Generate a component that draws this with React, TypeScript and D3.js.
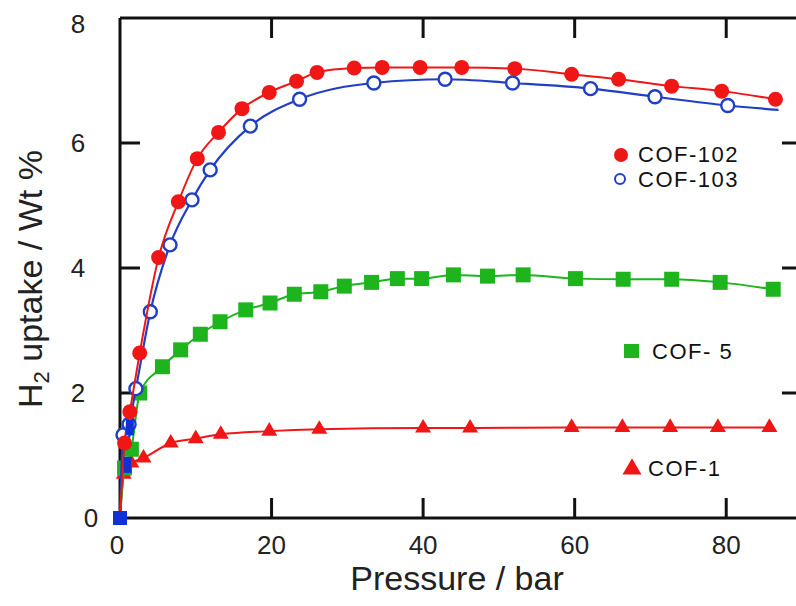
import React from 'react';
import * as d3 from 'd3';

// ---- data (pressure in bar, uptake in wt %) ----
const cof102P = [0, 0.6, 1.3, 2.6, 5.1, 7.7, 10.2, 13.0, 16.1, 19.7, 23.3, 26.0, 30.9, 34.6, 39.6, 45.1, 52.1, 59.6, 65.8, 72.8, 79.4, 86.5];
const cof102U = [0, 1.2, 1.7, 2.64, 4.17, 5.06, 5.75, 6.17, 6.55, 6.81, 6.99, 7.13, 7.2, 7.21, 7.21, 7.21, 7.19, 7.1, 7.02, 6.91, 6.83, 6.7];

const cof103P = [0, 0.4, 1.2, 2.1, 4.0, 6.6, 9.5, 11.9, 17.2, 23.7, 33.5, 42.9, 51.8, 62.1, 70.6, 80.2];
const cof103U = [0, 1.33, 1.5, 2.07, 3.3, 4.37, 5.09, 5.57, 6.27, 6.7, 6.96, 7.02, 6.96, 6.87, 6.74, 6.6];
const cof103TailP = [86.9];
const cof103TailU = [6.53];

const cof5P = [0, 0.6, 1.5, 2.6, 5.6, 8.0, 10.6, 13.2, 16.6, 19.8, 23.0, 26.5, 29.6, 33.2, 36.6, 39.8, 44.0, 48.5, 53.2, 60.1, 66.4, 72.8, 79.2, 86.2];
const cof5U = [0, 0.8, 1.1, 2.0, 2.42, 2.69, 2.94, 3.14, 3.33, 3.44, 3.58, 3.62, 3.71, 3.77, 3.83, 3.83, 3.89, 3.87, 3.89, 3.83, 3.82, 3.82, 3.77, 3.66];

const cof1P = [0, 0.5, 1.5, 3.1, 6.7, 10.0, 13.3, 19.7, 26.3, 40.0, 46.2, 59.6, 66.3, 72.6, 78.9, 85.7];
const cof1U = [0, 0.7, 0.88, 0.96, 1.2, 1.27, 1.34, 1.39, 1.42, 1.44, 1.44, 1.45, 1.45, 1.45, 1.45, 1.45];

const lowBlueP = [0, 1.0, 1.3];
const lowBlueU = [0, 0.85, 1.45];

const xTicks = [0, 20, 40, 60, 80];
const yTicks = [0, 2, 4, 6, 8];

const legendNames = ['COF-102', 'COF-103', 'COF- 5', 'COF-1'];

const RED = '#f01616';
const BLUE = '#1f3fc4';
const GREEN = '#1db41d';
const FONT = 'Liberation Sans, Arial, sans-serif';

type Pt = [number, number];
const zip = (a: number[], b: number[]): Pt[] => a.map((v, i) => [v, b[i]]);

export default function App() {
  const W = 796, H = 606;
  const x = d3.scaleLinear().domain([0, 90]).range([120, 802]);
  const y = d3.scaleLinear().domain([0, 8]).range([518, 18]);

  const line = d3.line<Pt>().x(d => x(d[0])).y(d => y(d[1])).curve(d3.curveMonotoneX);

  const s102 = zip(cof102P, cof102U);
  const s103 = zip(cof103P, cof103U);
  const s103line = s103.concat(zip(cof103TailP, cof103TailU));
  const s5 = zip(cof5P, cof5U);
  const s1 = zip(cof1P, cof1U);
  const sLow = zip(lowBlueP, lowBlueU);

  const tri = (cx: number, cy: number, w: number) => {
    const h = w * 0.85;
    return `M${cx},${cy - h * 2 / 3}L${cx + w / 2},${cy + h / 3}L${cx - w / 2},${cy + h / 3}Z`;
  };

  const x0 = x(0), x1 = x(90), y0 = y(0), y1 = y(8);
  const tickLen = 20;

  return (
    <svg width={W} height={H} style={{ position: 'absolute', left: 0, top: 0, background: '#fff' }}>
      {/* frame */}
      <g stroke="#111" strokeWidth={3} fill="none">
        <line x1={x0} y1={y1} x2={x0} y2={y0} />
        <line x1={x0} y1={y0} x2={x1} y2={y0} />
        <line x1={x0} y1={y1} x2={x1} y2={y1} />
        <line x1={x1} y1={y1} x2={x1} y2={y0} />
        {xTicks.filter(t => t > 0).map(t => (
          <g key={'xt' + t}>
            <line x1={x(t)} x2={x(t)} y1={y0} y2={y0 - tickLen} />
            <line x1={x(t)} x2={x(t)} y1={y1} y2={y1 + tickLen} />
          </g>
        ))}
        {yTicks.filter(t => t > 0 && t < 8).map(t => (
          <g key={'yt' + t}>
            <line x1={x0} x2={x0 + tickLen} y1={y(t)} y2={y(t)} />
            <line x1={x1} x2={x1 - tickLen} y1={y(t)} y2={y(t)} />
          </g>
        ))}
      </g>

      {/* tick labels */}
      <g fontFamily={FONT} fontSize={26} fill="#222">
        {xTicks.map(t => (
          <text key={'xl' + t} x={x(t) - (t === 0 ? 3 : 0)} y={554} textAnchor="middle">{t}</text>
        ))}
        {yTicks.map(t => (
          <text key={'yl' + t} x={t === 0 ? 91 : 78} y={y(t) + 9 + (t === 8 ? 6 : 0)} textAnchor="middle">{t}</text>
        ))}
      </g>

      {/* axis titles */}
      <text x={457} y={590} textAnchor="middle" fontFamily={FONT} fontSize={34} fill="#222">Pressure / bar</text>
      <text transform={`translate(42,${279}) rotate(-90)`} textAnchor="middle" fontFamily={FONT} fontSize={34} fill="#222">
        H<tspan fontSize={22} dy={7}>2</tspan><tspan dy={-7}> uptake / Wt %</tspan>
      </text>

      {/* COF-1 */}
      <path d={line(s1) || ''} fill="none" stroke={RED} strokeWidth={2} />
      {s1.slice(1).map((d, i) => (
        <path key={'c1' + i} d={tri(x(d[0]), y(d[1]), 16)} fill={RED} />
      ))}

      {/* COF-5 */}
      <path d={line(s5) || ''} fill="none" stroke={GREEN} strokeWidth={2} />
      {s5.slice(1).map((d, i) => (
        <rect key={'c5' + i} x={x(d[0]) - 7.5} y={y(d[1]) - 7.5} width={15} height={15} fill={GREEN} />
      ))}

      {/* COF-103 */}
      <path d={line(s103line) || ''} fill="none" stroke={BLUE} strokeWidth={2.2} />
      {s103.slice(1).map((d, i) => (
        <circle key={'c3' + i} cx={x(d[0])} cy={y(d[1])} r={6.5} fill="#fff" stroke={BLUE} strokeWidth={2.4} />
      ))}

      {/* COF-102 */}
      <path d={line(s102) || ''} fill="none" stroke={RED} strokeWidth={2} />
      {s102.slice(1).map((d, i) => (
        <circle key={'c2' + i} cx={x(d[0])} cy={y(d[1])} r={7.5} fill={RED} />
      ))}

      {/* low-pressure blue points */}
      {sLow.map((d, i) => (
        <rect key={'lb' + i} x={x(d[0]) - (i === 0 ? 7 : 4)} y={y(d[1]) - (i === 0 ? 7 : 8)} width={i === 0 ? 14 : 8} height={i === 0 ? 14 : 16} fill="#1030d8" />
      ))}

      {/* legend */}
      <g fontFamily={FONT} fontSize={22} fill="#111" letterSpacing={1.5}>
        <circle cx={621} cy={155} r={7} fill={RED} />
        <text x={638} y={162}>{legendNames[0]}</text>
        <circle cx={620} cy={179} r={5} fill="#fff" stroke={BLUE} strokeWidth={2} />
        <text x={638} y={187}>{legendNames[1]}</text>
        <rect x={624} y={344} width={15} height={14} fill={GREEN} />
        <text x={652} y={359}>{legendNames[2]}</text>
        <path d={tri(632, 469, 19)} fill={RED} />
        <text x={648} y={476}>{legendNames[3]}</text>
      </g>
    </svg>
  );
}
